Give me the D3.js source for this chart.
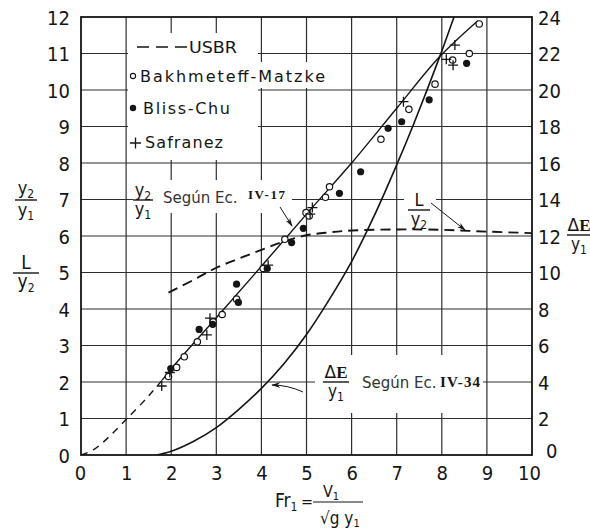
<!DOCTYPE html>
<html><head><meta charset="utf-8">
<script src="https://cdn.jsdelivr.net/npm/d3@7"></script>
<style>body{margin:0;background:#fff}svg{display:block}</style>
</head><body>
<svg id="c" width="590" height="531"></svg>
<script>
// ---------- data ----------
const xTicks = [0,1,2,3,4,5,6,7,8,9,10];
const leftTicks = [0,1,2,3,4,5,6,7,8,9,10,11,12];
const rightTicks = [0,2,4,6,8,10,12,14,16,18,20,22,24];

// Bakhmeteff-Matzke (open circles), y2/y1
const bakhX = [1.94,2.12,2.29,2.58,2.93,3.13,3.45,4.04,4.52,4.99,5.06,5.42,5.51,6.65,7.27,7.85,8.24,8.61,8.83];
const bakhY = [2.15,2.40,2.69,3.10,3.65,3.85,4.27,5.11,5.91,6.64,6.55,7.06,7.35,8.65,9.47,10.16,10.82,11.00,11.81];
// Bliss-Chu (filled)
const blissX = [1.99,2.62,2.92,3.45,3.49,4.13,4.67,4.93,5.73,6.20,6.81,7.11,7.72,8.55];
const blissY = [2.37,3.44,3.58,4.68,4.18,5.11,5.82,6.21,7.17,7.76,8.95,9.13,9.73,10.73];
// Safranez (+)
const safX = [1.79,1.97,2.79,2.86,4.15,5.08,5.13,7.15,8.10,8.25,8.29];
const safY = [1.89,2.26,3.29,3.75,5.20,6.60,6.78,9.68,10.84,10.68,11.23];

// USBR L/y2 (dashed)
const usbrX = [1.94,2.5,3.0,3.5,4.0,4.5,5.0,5.5,6.0,7.0,8.0,9.0,10.0];
const usbrY = [4.45,4.80,5.13,5.38,5.62,5.85,6.02,6.10,6.15,6.18,6.17,6.12,6.08];

// y2/y1 by Eq. IV-17
const eq17DashX = [0,0.27,0.5,1.0,1.5,1.8];
const eq17DashY = [0,0.14,0.36,0.97,1.62,2.05];
const eq17X = [1.8,2.0,3.0,4.0,5.0,6.0,7.0,7.95,8.8];
const eq17Y = [2.05,2.36,3.76,5.17,6.60,8.00,9.50,10.91,11.90];

// ΔE/y1 by Eq. IV-34 (right axis units)
const eq34X = [1.68,2.0,2.5,3.0,3.5,4.0,4.5,5.0,5.5,6.0,6.5,7.0,7.37,7.95,8.27];
const eq34Y = [0,0.2,0.75,1.5,2.5,3.65,5.0,6.6,8.5,10.6,13.1,15.9,18.1,21.8,24.0];

// ---------- setup ----------
const svg = d3.select("#c");
const x = d3.scaleLinear().domain([0,10]).range([81,532]);
const yL = d3.scaleLinear().domain([0,12]).range([455,17]);
const yR = d3.scaleLinear().domain([0,24]).range([455,17]);
const NUM = "'Liberation Sans Narrow','DejaVu Sans Condensed','Liberation Sans',sans-serif";
const SANS = "'DejaVu Sans','Liberation Sans',sans-serif";
const SERIF = "'Liberation Serif','DejaVu Serif',serif";
const INK = "#151515";

svg.append("rect").attr("width",590).attr("height",531).attr("fill","#fff");

const defs = svg.append("defs");
defs.append("clipPath").attr("id","plot").append("rect")
  .attr("x",x(0)).attr("y",yL(12)).attr("width",x(10)-x(0)).attr("height",yL(0)-yL(12));
defs.append("marker").attr("id","arr").attr("viewBox","0 0 10 6")
  .attr("refX",9).attr("refY",3).attr("markerWidth",9).attr("markerHeight",6)
  .attr("markerUnits","userSpaceOnUse").attr("orient","auto")
  .append("path").attr("d","M0,0 L10,3 L0,6 L3,3 Z").attr("fill",INK);

// ---------- grid ----------
const grid = svg.append("g").attr("stroke","#2e2e2e").attr("stroke-width",1.2);
grid.selectAll("line.v").data(xTicks.slice(1,-1)).join("line")
  .attr("x1",d=>x(d)).attr("x2",d=>x(d)).attr("y1",yL(0)).attr("y2",yL(12));
grid.selectAll("line.h").data(leftTicks.slice(1,-1)).join("line")
  .attr("x1",x(0)).attr("x2",x(10)).attr("y1",d=>yL(d)).attr("y2",d=>yL(d));

// white patches where text interrupts the grid
const patches = [[128,33,130,127],[255,62,76,26],[133,180,159,33],[404,188,32,40],[315,355,168,58]];
svg.append("g").selectAll("rect").data(patches).join("rect")
  .attr("x",d=>d[0]).attr("y",d=>d[1]).attr("width",d=>d[2]).attr("height",d=>d[3]).attr("fill","#fff");

// frame
svg.append("rect").attr("x",x(0)).attr("y",yL(12)).attr("width",x(10)-x(0)).attr("height",yL(0)-yL(12))
  .attr("fill","none").attr("stroke",INK).attr("stroke-width",1.8);

// ---------- axes labels ----------
const axB = d3.axisBottom(x).tickValues(xTicks).tickSize(0).tickPadding(0).tickFormat(d3.format("d"));
const gB = svg.append("g").attr("transform",`translate(0,${yL(0)})`).call(axB);
gB.select(".domain").remove();
gB.selectAll("text").attr("y",11).attr("dy","0.71em").attr("font-family",NUM).attr("font-size",20).attr("fill",INK)
  .attr("dx",d=>d===10?-3:(d===0?-1:0));

const axL = d3.axisLeft(yL).tickValues(leftTicks).tickSize(0).tickPadding(0).tickFormat(d3.format("d"));
const gL = svg.append("g").attr("transform",`translate(${x(0)-11},0)`).call(axL);
gL.select(".domain").remove();
gL.selectAll("text").attr("font-family",NUM).attr("font-size",20).attr("fill",INK).attr("dy","0.36em");

const axR = d3.axisRight(yR).tickValues(rightTicks).tickSize(0).tickPadding(0).tickFormat(d3.format("d"));
const gR = svg.append("g").attr("transform",`translate(${x(10)+6},0)`).call(axR);
gR.select(".domain").remove();
gR.selectAll("text").attr("font-family",NUM).attr("font-size",20).attr("fill",INK).attr("dy","0.36em")
  .attr("dx",d=>d===0?8:0).attr("y",d=>d===0?-5:0);

// ---------- curves ----------
const plot = svg.append("g").attr("clip-path","url(#plot)");
const lineL = d3.line().x(d=>x(d[0])).y(d=>yL(d[1])).curve(d3.curveCatmullRom);
const lineR = d3.line().x(d=>x(d[0])).y(d=>yR(d[1])).curve(d3.curveCatmullRom);

plot.append("path").attr("d",lineL(usbrX.map((v,i)=>[v,usbrY[i]])))
  .attr("fill","none").attr("stroke",INK).attr("stroke-width",1.9).attr("stroke-dasharray","10,6");
plot.append("path").attr("d",lineL(eq17DashX.map((v,i)=>[v,eq17DashY[i]])))
  .attr("fill","none").attr("stroke",INK).attr("stroke-width",1.4).attr("stroke-dasharray","7,6");
plot.append("path").attr("d",lineL(eq17X.map((v,i)=>[v,eq17Y[i]])))
  .attr("fill","none").attr("stroke",INK).attr("stroke-width",1.4);
plot.append("path").attr("d",lineR(eq34X.map((v,i)=>[v,eq34Y[i]])))
  .attr("fill","none").attr("stroke",INK).attr("stroke-width",1.6);

// ---------- points ----------
plot.append("g").selectAll("circle").data(bakhX.map((v,i)=>[v,bakhY[i]])).join("circle")
  .attr("cx",d=>x(d[0])).attr("cy",d=>yL(d[1])).attr("r",3.2)
  .attr("fill","#fff").attr("stroke",INK).attr("stroke-width",1.2);
plot.append("g").selectAll("circle").data(blissX.map((v,i)=>[v,blissY[i]])).join("circle")
  .attr("cx",d=>x(d[0])).attr("cy",d=>yL(d[1])).attr("r",3.6).attr("fill",INK);
plot.append("g").selectAll("path").data(safX.map((v,i)=>[v,safY[i]])).join("path")
  .attr("transform",d=>`translate(${x(d[0])},${yL(d[1])})`)
  .attr("d","M-5,0H5M0,-5V5").attr("stroke",INK).attr("stroke-width",1.3).attr("fill","none");

// ---------- legend ----------
const lg = svg.append("g").attr("font-family",SANS).attr("font-size",16).attr("fill",INK);
lg.append("line").attr("x1",137).attr("x2",187).attr("y1",47).attr("y2",47)
  .attr("stroke",INK).attr("stroke-width",1.6).attr("stroke-dasharray","12,7");
lg.append("text").attr("x",189).attr("y",53).attr("textLength",48).attr("lengthAdjust","spacingAndGlyphs").text("USBR");
lg.append("circle").attr("cx",133).attr("cy",76).attr("r",2.6).attr("fill","#fff").attr("stroke",INK).attr("stroke-width",1.1);
lg.append("text").attr("x",140).attr("y",82).attr("textLength",185).attr("lengthAdjust","spacing").text("Bakhmeteff-Matzke");
lg.append("circle").attr("cx",133).attr("cy",108).attr("r",3.2).attr("fill",INK);
lg.append("text").attr("x",143).attr("y",114).attr("textLength",87).attr("lengthAdjust","spacing").text("Bliss-Chu");
lg.append("path").attr("d","M130,143H141M135.5,137.5V148.5").attr("stroke",INK).attr("stroke-width",1.3);
lg.append("text").attr("x",145).attr("y",148).attr("textLength",78).attr("lengthAdjust","spacing").text("Safranez");

// ---------- helper for fractions ----------
function frac(g, cx, lineY, w, top, bot, opts={}) {
  const t = g.append("g").attr("fill",INK);
  t.append("line").attr("x1",cx-w/2).attr("x2",cx+w/2).attr("y1",lineY).attr("y2",lineY)
    .attr("stroke",INK).attr("stroke-width",1.4);
  const a = t.append("text").attr("x",cx).attr("y",lineY-(opts.up||4)).attr("text-anchor","middle")
    .attr("font-family",opts.topFont||NUM).attr("font-size",opts.size||18);
  top(a);
  const b = t.append("text").attr("x",cx).attr("y",lineY+(opts.down||15)).attr("text-anchor","middle")
    .attr("font-family",NUM).attr("font-size",opts.size||18);
  bot(b);
  return t;
}
const ySub = (n)=> s=>{ s.append("tspan").text("y"); s.append("tspan").attr("font-size",12).attr("dy",4).text(n); };
const plain = (str)=> s=>{ s.text(str); };
const dE = s=>{ s.append("tspan").attr("font-family",SANS).attr("font-weight","normal").text("Δ");
                s.append("tspan").attr("font-family",SERIF).attr("font-weight","bold").text("E"); };

// left axis labels
frac(svg, 26, 200, 22, ySub("2"), ySub("1"), {size:18, up:6, down:16});
frac(svg, 26, 273, 26, plain("L"), ySub("2"), {size:19});
// right axis label
frac(svg, 579, 235, 24, dE, ySub("1"), {size:17});

// annotation IV-17
frac(svg, 143, 200, 20, ySub("2"), ySub("1"), {size:18});
svg.append("text").attr("x",163).attr("y",203).attr("font-family",SANS).attr("font-size",15).attr("fill","#333").text("Según Ec.");
svg.append("text").attr("x",248).attr("y",199).attr("font-family",SERIF).attr("font-weight","bold").attr("font-size",13)
  .attr("textLength",37).attr("fill",INK).text("IV-17");
svg.append("line").attr("x1",280).attr("y1",207).attr("x2",292).attr("y2",226)
  .attr("stroke",INK).attr("stroke-width",1).attr("marker-end","url(#arr)");

// annotation L/y2
frac(svg, 419, 210, 22, plain("L"), ySub("2"), {size:18});
svg.append("line").attr("x1",431).attr("y1",203).attr("x2",465).attr("y2",230)
  .attr("stroke",INK).attr("stroke-width",1).attr("marker-end","url(#arr)");

// annotation IV-34
frac(svg, 336, 382, 26, dE, ySub("1"), {size:17});
svg.append("text").attr("x",362).attr("y",388).attr("font-family",SANS).attr("font-size",15).attr("fill","#333").text("Según Ec.");
svg.append("text").attr("x",440).attr("y",387).attr("font-family",SERIF).attr("font-weight","bold").attr("font-size",15)
  .attr("textLength",40).attr("fill",INK).text("IV-34");
svg.append("path").attr("d","M303,392 Q288,385 272,385").attr("fill","none")
  .attr("stroke",INK).attr("stroke-width",1).attr("marker-end","url(#arr)");

// x-axis title: Fr1 = V1 / sqrt(g y1)
const xt = svg.append("g").attr("fill",INK).attr("font-family",NUM).attr("font-size",19);
const fr = xt.append("text").attr("x",275).attr("y",507);
fr.append("tspan").text("Fr");
fr.append("tspan").attr("font-size",12).attr("dy",4).text("1");
xt.append("text").attr("x",301).attr("y",507).attr("font-size",16).text("=");
xt.append("line").attr("x1",313).attr("x2",363).attr("y1",502).attr("y2",502).attr("stroke",INK).attr("stroke-width",1.2);
const v1 = xt.append("text").attr("x",331).attr("y",497).attr("text-anchor","middle").attr("font-size",16);
v1.append("tspan").text("V"); v1.append("tspan").attr("font-size",11).attr("dy",3).text("1");
const den = xt.append("text").attr("x",320).attr("y",524).attr("font-size",17);
den.append("tspan").text("√g y");
den.append("tspan").attr("font-size",11).attr("dy",3).text("1");
</script>
</body></html>
